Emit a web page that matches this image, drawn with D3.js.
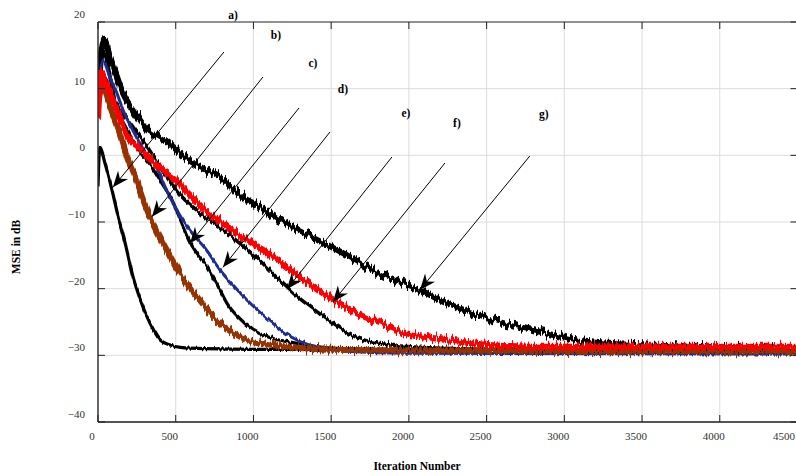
<!DOCTYPE html>
<html>
<head>
<meta charset="utf-8">
<script src="https://cdn.jsdelivr.net/npm/d3@7"></script>
<style>
  body { margin: 0; background: #fff; }
  svg { display: block; font-family: "Liberation Serif", "Times New Roman", serif; }
  .grid line { stroke: #dcdcdc; stroke-width: 1; }
  .tick-label { font-size: 11px; fill: #333; }
  .title { font-size: 11.5px; font-weight: bold; fill: #000; }
  .tag { font-size: 11.5px; font-weight: bold; fill: #000; }
</style>
</head>
<body>
<div id="chart"></div>
<script>
// tick values
var xTicks = [0, 500, 1000, 1500, 2000, 2500, 3000, 3500, 4000, 4500];
var yTicks = [-40, -30, -20, -10, 0, 10, 20];

// learning curves, [iteration, MSE dB]
var curveA = [[0,-4.5],[12,1.2],[45,-1.2],[90,-5.2],[130,-9.2],[175,-13.2],[225,-18.2],[270,-21.5],[315,-24.2],[360,-26.3],[400,-27.7],[460,-28.4],[530,-28.8],[700,-29],[1000,-29.1],[2000,-29.1],[3000,-29.2],[4500,-29.3]];
var curveB = [[0,7],[25,11.2],[64,8.3],[109,5.3],[154,2.3],[193,-0.7],[238,-3.2],[283,-6.2],[334,-9.2],[386,-11.7],[431,-13.7],[527,-17.7],[637,-21.2],[785,-25.2],[913,-27.2],[1087,-28.3],[1300,-28.9],[1600,-29.2],[2500,-29.3],[4500,-29.4]];
var curveC = [[0,8],[30,12],[109,7.5],[206,3],[270,0.5],[347,-1.7],[412,-4.2],[476,-6.7],[540,-10.2],[592,-13],[701,-16.7],[785,-20.2],[830,-22.2],[900,-24.2],[997,-26.2],[1100,-27.3],[1254,-28.1],[1492,-28.9],[2000,-29.2],[4500,-29.4]];
var curveD = [[0,8],[32,14.3],[77,11.8],[122,9.3],[161,6.8],[212,4.3],[257,2.3],[322,-0.2],[386,-2.2],[431,-4.7],[495,-7.7],[559,-10.2],[624,-12.2],[688,-13.9],[785,-17.2],[870,-19.5],[958,-21.7],[1040,-23.5],[1125,-25.2],[1200,-26.6],[1280,-27.7],[1400,-28.7],[1600,-29.4],[2000,-29.7],[4500,-29.8]];
var curveE = [[0,9],[32,15.5],[109,8.3],[193,5.3],[302,1.8],[412,-2.2],[540,-6.2],[656,-8.6],[785,-10.8],[913,-13.2],[1050,-16],[1215,-19.8],[1299,-21.5],[1428,-23.8],[1556,-26],[1685,-27.5],[1833,-28.3],[2071,-28.8],[2500,-29.1],[4500,-29.3]];
var curveF = [[0,5.5],[20,12.6],[60,10.3],[109,7.5],[154,4.8],[193,2.8],[257,1.3],[347,-0.7],[412,-2.2],[495,-3.7],[559,-5.2],[624,-6.7],[688,-8.2],[772,-9.7],[862,-11.2],[926,-12.2],[1042,-13.9],[1151,-15.6],[1299,-18.3],[1383,-19.7],[1511,-21.6],[1666,-23.7],[1814,-25.2],[1987,-26.7],[2154,-27.4],[2373,-28.1],[2540,-28.5],[2800,-28.7],[4500,-28.7]];
var curveG = [[0,10],[39,17.2],[77,14.8],[122,11.8],[161,9.3],[225,6.8],[302,4.3],[431,2.3],[559,-0.2],[688,-2],[817,-3.9],[926,-6.2],[1042,-7.7],[1170,-9.7],[1299,-11.4],[1428,-12.9],[1556,-14.4],[1730,-16.7],[1897,-18.7],[2071,-20.2],[2244,-22.2],[2412,-23.7],[2566,-24.9],[2797,-26.2],[2971,-27.2],[3150,-28],[3500,-28.5],[4000,-28.8],[4500,-29.2]];

// annotation labels and arrows: label position, arrow start, arrow tip (data units)
var tagNames  = ["a)", "b)", "c)", "d)", "e)", "f)", "g)"];
var tagPos    = [[868,20.45],[1145,17.45],[1383,13.25],[1576,9.35],[1981,5.75],[2309,4.25],[2868,5.6]];
var arrowFrom = [[810,15.5],[1061,11.75],[1293,7.1],[1492,3.5],[1891,-0.25],[2232,-1.15],[2778,-0.1]];
var arrowTo   = [[96,-4.8],[347,-9.2],[592,-13.2],[804,-16.8],[1215,-20.1],[1511,-22],[2071,-20.2]];

var width = 796, height = 476;
var margin = {left: 98, top: 22, right: -1.5, bottom: 54};

var svg = d3.select("#chart").append("svg")
    .attr("width", width)
    .attr("height", height);

var x = d3.scaleLinear().domain([0, 4500]).range([margin.left, width - margin.right]);
var y = d3.scaleLinear().domain([-40, 20]).range([height - margin.bottom, margin.top]);

var defs = svg.append("defs");
defs.append("clipPath").attr("id", "plot-clip")
    .append("rect")
    .attr("x", x(0)).attr("y", y(20))
    .attr("width", x(4500) - x(0)).attr("height", y(-40) - y(20));

// vertical jitter so the thick lines look like noisy learning curves
function addJitter(id, amount, seed) {
    var f = defs.append("filter").attr("id", id)
        .attr("x", "-2%").attr("y", "-10%").attr("width", "104%").attr("height", "120%")
        .attr("color-interpolation-filters", "sRGB");
    f.append("feTurbulence")
        .attr("type", "fractalNoise")
        .attr("baseFrequency", "0.5 0.02")
        .attr("numOctaves", 2)
        .attr("seed", seed)
        .attr("result", "noise");
    f.append("feColorMatrix")
        .attr("in", "noise")
        .attr("type", "matrix")
        .attr("values", "0 0 0 0 0.5  0 1 0 0 0  0 0 0 0 0  0 0 0 0 1")
        .attr("result", "vnoise");
    f.append("feDisplacementMap")
        .attr("in", "SourceGraphic")
        .attr("in2", "vnoise")
        .attr("scale", amount)
        .attr("xChannelSelector", "R")
        .attr("yChannelSelector", "G");
}

defs.append("marker")
    .attr("id", "head")
    .attr("markerUnits", "userSpaceOnUse")
    .attr("viewBox", "-18 -8 20 16")
    .attr("refX", 0).attr("refY", 0)
    .attr("markerWidth", 20).attr("markerHeight", 16)
    .attr("orient", "auto")
    .append("path")
    .attr("d", "M0,0 L-16,-6.5 L-11,0 L-16,6.5 Z")
    .attr("fill", "#000");

// grid
var grid = svg.append("g").attr("class", "grid");
grid.selectAll(".gx").data(xTicks.slice(1, -1)).enter().append("line")
    .attr("x1", function(d) { return x(d); }).attr("x2", function(d) { return x(d); })
    .attr("y1", y(20)).attr("y2", y(-40));
grid.selectAll(".gy").data(yTicks.slice(1, -1)).enter().append("line")
    .attr("x1", x(0)).attr("x2", x(4500))
    .attr("y1", function(d) { return y(d); }).attr("y2", function(d) { return y(d); });

// curves
var series = [
    {data: curveG, color: "#000", w: 6, jitter: 14},
    {data: curveE, color: "#000", w: 3.6, jitter: 8},
    {data: curveC, color: "#000", w: 3.2, jitter: 6},
    {data: curveA, color: "#000", w: 3.2, jitter: 5},
    {data: curveD, color: "#1c2d8f", w: 3, jitter: 5},
    {data: curveB, color: "#973300", w: 6, jitter: 13},
    {data: curveF, color: "#ff0000", w: 6, jitter: 12}
];

var line = d3.line()
    .x(function(d) { return x(d[0]); })
    .y(function(d) { return y(d[1]); })
    .curve(d3.curveMonotoneX);

var plot = svg.append("g").attr("clip-path", "url(#plot-clip)");
series.forEach(function(s, i) {
    addJitter("jit" + i, s.jitter, i * 7 + 3);
    plot.append("path")
        .datum(s.data)
        .attr("d", line)
        .attr("fill", "none")
        .attr("stroke", s.color)
        .attr("stroke-width", s.w)
        .attr("stroke-linejoin", "round")
        .attr("filter", "url(#jit" + i + ")");
});

// frame and inside ticks
var frame = svg.append("g");
frame.append("line").attr("x1", x(0)).attr("x2", x(4500)).attr("y1", y(20)).attr("y2", y(20))
    .attr("stroke", "#222").attr("stroke-width", 1);
frame.append("line").attr("x1", x(0)).attr("x2", x(4500)).attr("y1", y(-40)).attr("y2", y(-40))
    .attr("stroke", "#555").attr("stroke-width", 2);
frame.append("line").attr("x1", x(0)).attr("x2", x(0)).attr("y1", y(20)).attr("y2", y(-40))
    .attr("stroke", "#333").attr("stroke-width", 1.5);
frame.append("line").attr("x1", x(4500)).attr("x2", x(4500)).attr("y1", y(20)).attr("y2", y(-40))
    .attr("stroke", "#333").attr("stroke-width", 1.5);

xTicks.forEach(function(t) {
    frame.append("line").attr("x1", x(t)).attr("x2", x(t)).attr("y1", y(-40)).attr("y2", y(-40) - 7)
        .attr("stroke", "#222");
    frame.append("line").attr("x1", x(t)).attr("x2", x(t)).attr("y1", y(20)).attr("y2", y(20) + 7)
        .attr("stroke", "#222");
});
yTicks.forEach(function(t) {
    frame.append("line").attr("x1", x(0)).attr("x2", x(0) + 7).attr("y1", y(t)).attr("y2", y(t))
        .attr("stroke", "#222");
    frame.append("line").attr("x1", x(4500)).attr("x2", x(4500) - 7).attr("y1", y(t)).attr("y2", y(t))
        .attr("stroke", "#222");
});

// tick labels (the last one is pulled in so it stays on the page)
svg.append("g").selectAll("text").data(xTicks).enter().append("text")
    .attr("class", "tick-label")
    .attr("x", function(d, i) { return i === xTicks.length - 1 ? width - 1 : x(d) - 6; })
    .attr("y", y(-40) + 18)
    .attr("text-anchor", function(d, i) { return i === xTicks.length - 1 ? "end" : "middle"; })
    .text(function(d) { return d; });
svg.append("g").selectAll("text").data(yTicks).enter().append("text")
    .attr("class", "tick-label")
    .attr("x", x(0) - 13)
    .attr("y", function(d) { return y(d) - 4; })
    .attr("text-anchor", "end")
    .text(function(d) { return d3.format("d")(d); });

// axis titles
svg.append("text").attr("class", "title")
    .attr("x", 417).attr("y", 470)
    .attr("text-anchor", "middle")
    .text("Iteration Number");
svg.append("text").attr("class", "title")
    .attr("transform", "translate(20," + 247 + ") rotate(-90)")
    .attr("text-anchor", "middle")
    .text("MSE in dB");

// annotations
var notes = svg.append("g");
tagNames.forEach(function(name, i) {
    notes.append("line")
        .attr("x1", x(arrowFrom[i][0])).attr("y1", y(arrowFrom[i][1]))
        .attr("x2", x(arrowTo[i][0])).attr("y2", y(arrowTo[i][1]))
        .attr("stroke", "#000").attr("stroke-width", 1)
        .attr("marker-end", "url(#head)");
    notes.append("text").attr("class", "tag")
        .attr("x", x(tagPos[i][0])).attr("y", y(tagPos[i][1]))
        .attr("text-anchor", "middle")
        .text(name);
});
</script>
</body>
</html>
